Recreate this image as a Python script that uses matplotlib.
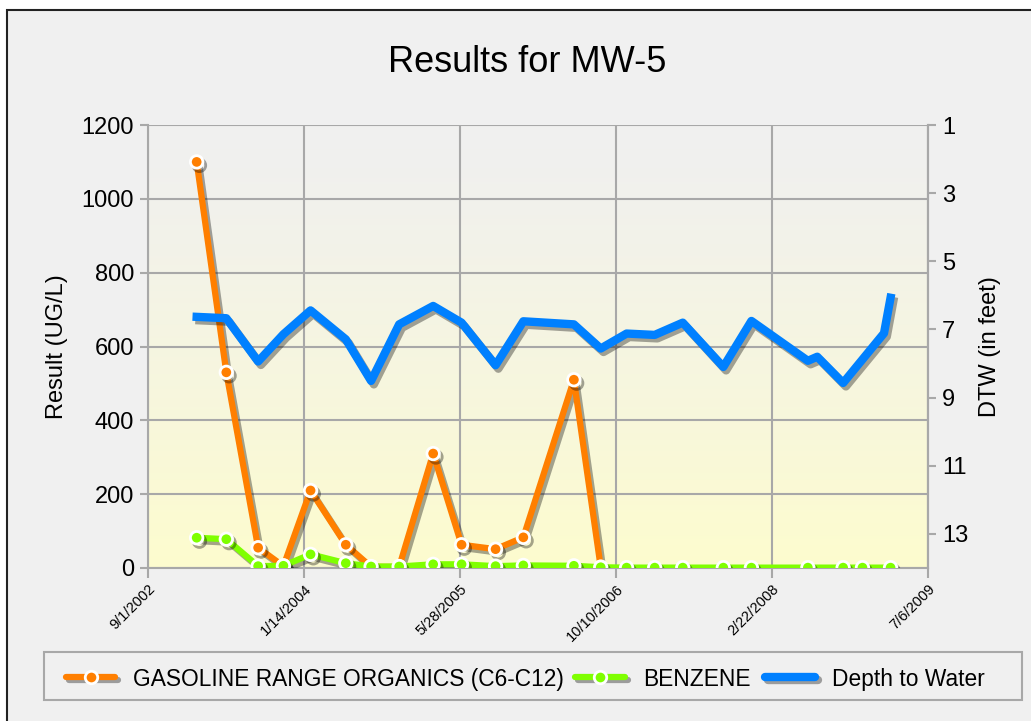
import numpy as np
import pandas as pd
from matplotlib import pyplot as plt
from matplotlib import patheffects as pe
from matplotlib.patches import Rectangle
from matplotlib.lines import Line2D

plt.rcParams['font.family'] = ['Liberation Sans', 'DejaVu Sans']

# sample dates for the lab results
sample_dates = pd.to_datetime([
    "2003-02-04", "2003-05-10", "2003-08-20", "2003-11-09", "2004-02-04",
    "2004-05-27", "2004-08-16", "2004-11-14", "2005-03-03", "2005-06-02",
    "2005-09-19", "2005-12-17", "2006-05-28", "2006-08-22", "2006-11-13",
    "2007-02-11", "2007-05-12", "2007-09-19", "2007-12-18", "2008-06-16",
    "2008-10-07", "2008-12-08", "2009-03-08"])

gro = [1100, 530, 55, 5, 210, 63, 3, 3, 310, 63, 51, 83, 510, 2]
benzene = [82, 78, 5, 6, 37, 13, 4, 4, 10, 10, 5, 7, 6, 2,
           1, 1, 1, 1, 1, 1, 1, 1, 1]

# depth to water dates + values (feet)
dtw_dates = pd.to_datetime([
    "2003-02-04", "2003-05-10", "2003-08-20", "2003-11-09", "2004-02-04",
    "2004-05-27", "2004-08-16", "2004-11-14", "2005-03-03", "2005-06-02",
    "2005-09-19", "2005-12-17", "2006-05-28", "2006-08-22", "2006-11-13",
    "2007-02-11", "2007-05-12", "2007-09-19", "2007-12-18", "2008-06-16",
    "2008-07-16", "2008-10-07", "2009-02-15", "2009-03-08"])
dtw = [6.63, 6.67, 7.94, 7.14, 6.44, 7.29, 8.51, 6.85, 6.31, 6.80,
       8.05, 6.76, 6.85, 7.56, 7.12, 7.16, 6.80, 8.10, 6.75, 7.92,
       7.80, 8.57, 7.11, 6.07]

tick_dates = pd.to_datetime(["2002-09-01", "2004-01-14", "2005-05-28",
                             "2006-10-10", "2008-02-22", "2009-07-06"])
tick_labels = ["9/1/2002", "1/14/2004", "5/28/2005", "10/10/2006", "2/22/2008", "7/6/2009"]

series_names = ['GASOLINE RANGE ORGANICS (C6-C12)', 'BENZENE', 'Depth to Water']
orange, green, blue = '#ff7f00', '#7fff00', '#0080ff'

fig = plt.figure(figsize=(10.31, 7.21), dpi=100, facecolor='white')
# grey panel with black top/left border
fig.patches.append(Rectangle((7/1031, -0.1), 1.2, (1 - 10/721) + 0.1, transform=fig.transFigure,
                             facecolor='#f0f0f0', edgecolor='#222222', linewidth=1.5, zorder=-5))

ax = fig.add_axes([148/1031, 1 - 568/721, 780/1031, 443/721])
ax.patch.set_visible(False)

# gradient background of plot area
grad = np.linspace(0, 1, 256).reshape(-1, 1)
top = np.array([240, 240, 240]) / 255
bot = np.array([253, 252, 206]) / 255
w = grad ** 1.2
img = top * (1 - w) + bot * w
ax.imshow(img.reshape(256, 1, 3), extent=[0, 1, 0, 1], transform=ax.transAxes,
          aspect='auto', zorder=-2, origin='upper')

gridc = '#a8a8a8'
shadow = [pe.SimpleLineShadow(offset=(2, -2.5), shadow_color='k', alpha=0.35), pe.Normal()]

ax.plot(sample_dates[:len(gro)], gro, color=orange, lw=4.5, marker='o', ms=9,
        mfc=orange, mec='white', mew=2, zorder=3, path_effects=shadow)
ax.plot(sample_dates, benzene, color=green, lw=4.5, marker='o', ms=9,
        mfc=green, mec='white', mew=2, zorder=4, path_effects=shadow)

ax.set_xlim(tick_dates[0], tick_dates[-1])
ax.set_ylim(0, 1200)
ax.set_yticks(range(0, 1201, 200))
ax.set_xticks(tick_dates)
ax.set_xticklabels(tick_labels, rotation=45, ha='right', va='top',
                   rotation_mode='anchor', fontsize=10.5)
ax.tick_params(axis='y', labelsize=17, length=6, width=1.5, color=gridc, pad=4)
ax.tick_params(axis='x', length=7, width=1.5, color=gridc, pad=3)
ax.grid(True, color=gridc, lw=1.5)
ax.set_axisbelow(True)
for s in ax.spines.values():
    s.set_color(gridc)
    s.set_linewidth(1.5)
ax.spines['top'].set_visible(False)
ax.set_ylabel('Result (UG/L)', fontsize=17, labelpad=10)

ax2 = ax.twinx()
ax2.plot(dtw_dates, dtw, color=blue, lw=6, zorder=3, path_effects=shadow)
ax2.set_ylim(14, 1)
ax2.set_yticks([1, 3, 5, 7, 9, 11, 13])
ax2.tick_params(axis='y', labelsize=17, length=6, width=1.5, color=gridc, pad=4)
for s in ax2.spines.values():
    s.set_visible(False)
ax2.spines['right'].set_visible(True)
ax2.spines['right'].set_color(gridc)
ax2.spines['right'].set_linewidth(1.5)
ax2.set_ylabel('DTW (in feet)', fontsize=17, labelpad=8)

fig.text(0.511, 1 - 63/721, 'Results for MW-5', ha='center', va='center', fontsize=26)

# legend box, drawn by hand so the labels share one baseline
fig.patches.append(Rectangle((44/1031, 1 - 700/721), 978/1031, 48/721, transform=fig.transFigure,
                             facecolor='#f0f0f0', edgecolor='#a8a8a8', linewidth=1.5))
ly = 1 - 677/721
entries = [(66, 115, 133, orange, True, 4.5),
           (575, 625, 643, green, True, 4.5),
           (765, 815, 832, blue, False, 6)]
for name, (x0, x1, xt, c, mk, lw) in zip(series_names, entries):
    fig.lines.append(Line2D([x0/1031, x1/1031], [ly, ly], transform=fig.transFigure,
                            color=c, lw=lw, path_effects=shadow, solid_capstyle='round'))
    if mk:
        fig.lines.append(Line2D([(x0 + x1)/2/1031], [ly], transform=fig.transFigure,
                                marker='o', ms=9, mfc=c, mec='white', mew=2, ls='none'))
    fig.text(xt/1031, ly, name, ha='left', va='center_baseline', fontsize=16.4)

fig.savefig('out.png', dpi=100, facecolor=fig.get_facecolor())
